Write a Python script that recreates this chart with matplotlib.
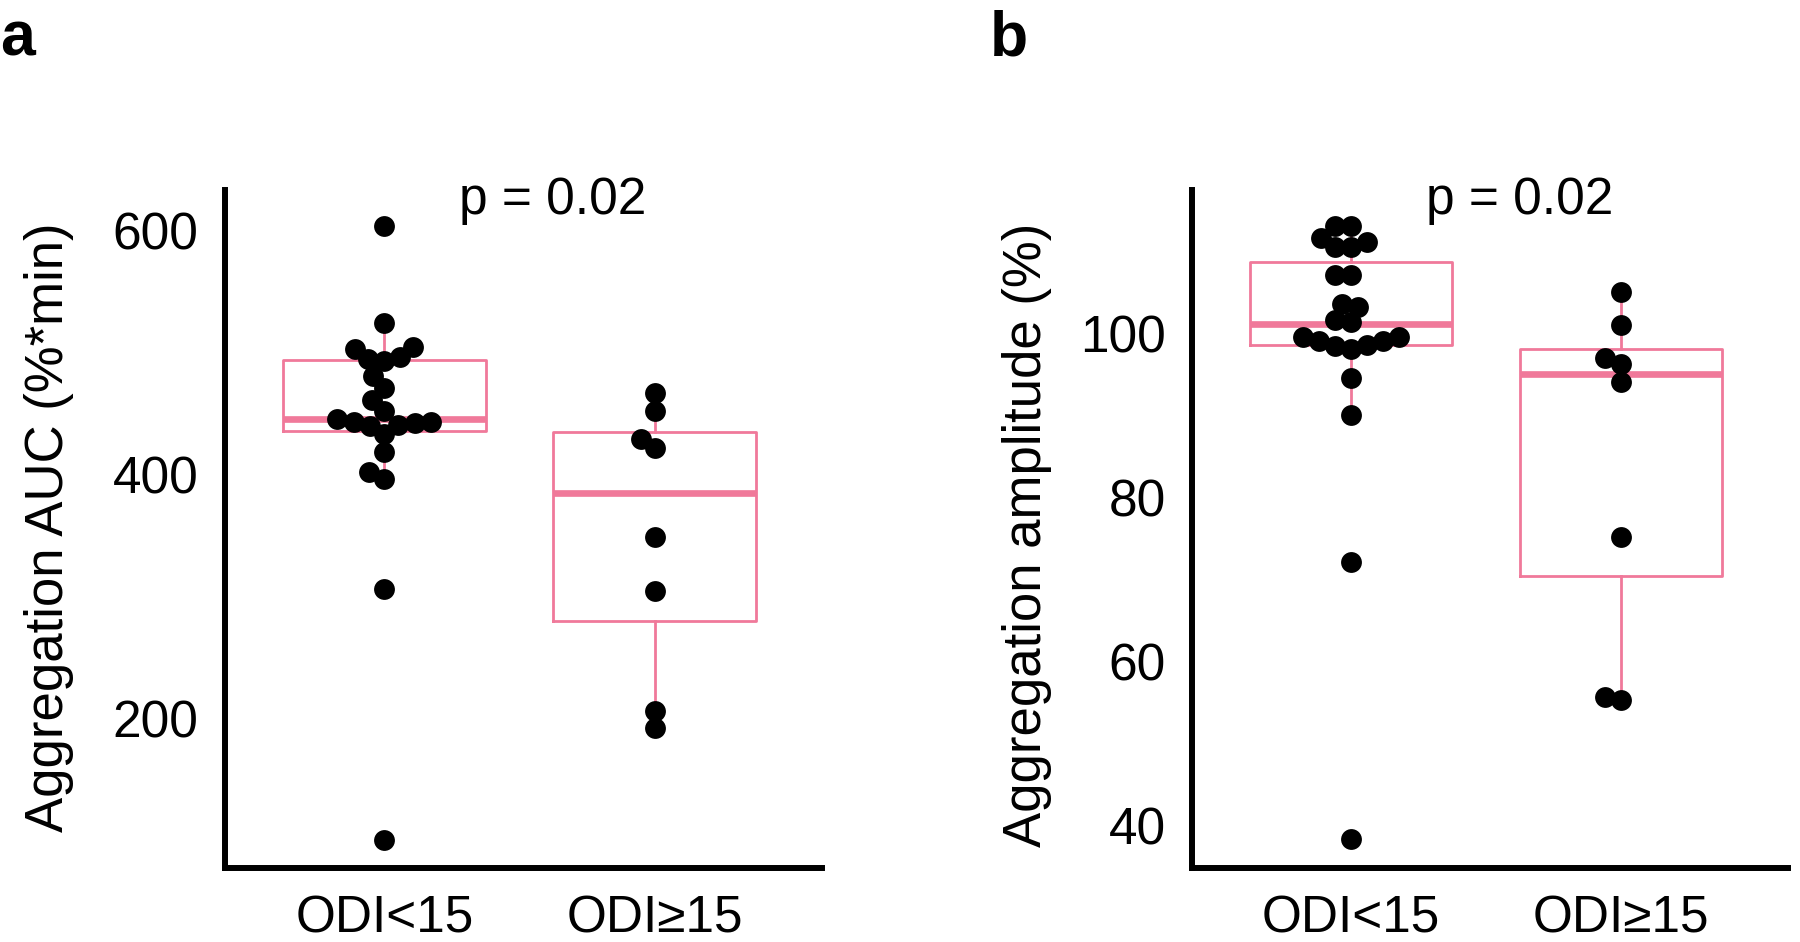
import numpy as np
import matplotlib
matplotlib.use("Agg")
import matplotlib.pyplot as plt

plt.rcParams['font.family'] = ['Liberation Sans', 'DejaVu Sans']

# ---------------- data ----------------
groups = ["ODI<15", "ODI\u226515"]

auc_low = [603.6, 524.4, 503.2, 505.0, 495.1, 493.3, 496.3, 481.2, 471.3, 461.1,
           452.3, 443.5, 442.0, 439.5, 433.6, 441.0, 442.8, 445.7, 418.2, 396.2,
           401.7, 306.4, 100.2]
auc_high = [466.9, 451.9, 429.2, 421.8, 348.6, 304.6, 205.7, 191.8]

amp_low = [113.1, 113.1, 111.1, 110.5, 110.5, 111.6, 107.1, 107.1, 103.2, 103.6,
           101.4, 101.6, 99.6, 99.1, 98.45, 98.1, 98.6, 99.1, 99.6, 94.6,
           90.1, 72.2, 38.35]
amp_high = [105.1, 101.0, 97.0, 96.3, 94.1, 75.2, 55.3, 55.7]

# box statistics as drawn in the figure
auc_q1 = [435.8, 279.8]
auc_med = [445.7, 385.2]
auc_q3 = [494.0, 434.7]
auc_whislo = [396.2, 191.8]
auc_whishi = [524.4, 466.9]

amp_q1 = [98.56, 70.4]
amp_med = [101.1, 95.1]
amp_q3 = [108.7, 98.1]
amp_whislo = [90.1, 55.3]
amp_whishi = [113.1, 105.1]

auc_ticks = [200, 400, 600]
amp_ticks = [40, 60, 80, 100]

p_text = "p = 0.02"
ylabels = ["Aggregation AUC (%*min)", "Aggregation amplitude (%)"]
panel_labels = ["a", "b"]

PINK = "#F0799A"
W, H = 1800, 942

fig = plt.figure(figsize=(W / 100, H / 100), dpi=100)


def swarm_offsets(ax, values, d_px):
    ys = ax.transData.transform(np.column_stack([np.ones(len(values)), values]))[:, 1]
    order = np.argsort(ys, kind="stable")
    xs = np.zeros(len(values))
    placed = []
    for i in order:
        y = ys[i]
        cands = [0.0]
        for px, py in placed:
            dy = abs(py - y)
            if dy < d_px:
                dx = np.sqrt(d_px ** 2 - dy ** 2)
                cands += [px + dx, px - dx]
        cands.sort(key=lambda c: (round(abs(c), 6), c))
        for c in cands:
            if all((c - px) ** 2 + (y - py) ** 2 >= d_px ** 2 - 1e-6 for px, py in placed):
                xs[i] = c
                break
        placed.append((xs[i], y))
    p0 = ax.transData.transform((0, 0))[0]
    p1 = ax.transData.transform((1, 0))[0]
    return xs / (p1 - p0)


def make_panel(rect, series, q1, med, q3, wlo, whi, ylim, ticks, ylabel,
               ylabel_x, ylabel_y, p_x, label, label_x):
    ax = fig.add_axes(rect)
    ax.set_xlim(0.41, 2.62)
    ax.set_ylim(*ylim)
    stats = []
    for k in range(2):
        stats.append(dict(med=med[k], q1=q1[k], q3=q3[k], whislo=wlo[k],
                          whishi=whi[k], fliers=[]))
    ax.bxp(stats, positions=[1, 2], widths=0.75, showcaps=False,
           showfliers=False,
           boxprops=dict(color=PINK, linewidth=2.0),
           whiskerprops=dict(color=PINK, linewidth=2.0),
           medianprops=dict(color=PINK, linewidth=4.8))
    for k, vals in enumerate(series):
        offs = swarm_offsets(ax, vals, 16.5)
        ax.scatter(np.full(len(vals), k + 1.0) + offs, vals, s=225,
                   color="black", zorder=5, linewidths=0)
    ax.set_xticks([1, 2])
    ax.set_xticklabels(groups)
    ax.set_yticks(ticks)
    ax.set_yticklabels([str(t) for t in ticks])
    ax.tick_params(axis="both", length=0, labelsize=37)
    ax.tick_params(axis="y", pad=19)
    ax.tick_params(axis="x", pad=19)
    for s in ["top", "right"]:
        ax.spines[s].set_visible(False)
    for s in ["left", "bottom"]:
        ax.spines[s].set_linewidth(4.3)
        ax.spines[s].set_color("black")
    fig.text(ylabel_x / W, 1 - ylabel_y / H, ylabel, rotation=90,
             ha="center", va="center", fontsize=38)
    fig.text(p_x / W, 1 - 214 / H, p_text, ha="center", va="baseline",
             fontsize=37)
    fig.text(label_x / W, 1 - 55 / H, label, ha="left", va="baseline",
             fontsize=45, fontweight="bold")
    return ax


make_panel([225 / W, (H - 868) / H, 597 / W, 678 / H],
           [auc_low, auc_high], auc_q1, auc_med, auc_q3, auc_whislo, auc_whishi,
           (77.1, 633.5), auc_ticks, ylabels[0], 49, 527, 553, panel_labels[0], 0)

make_panel([1192 / W, (H - 868) / H, 596 / W, 678 / H],
           [amp_low, amp_high], amp_q1, amp_med, amp_q3, amp_whislo, amp_whishi,
           (34.86, 117.47), amp_ticks, ylabels[1], 1027, 535, 1520, panel_labels[1], 990)

fig.savefig("out.png", dpi=100, facecolor="white")
